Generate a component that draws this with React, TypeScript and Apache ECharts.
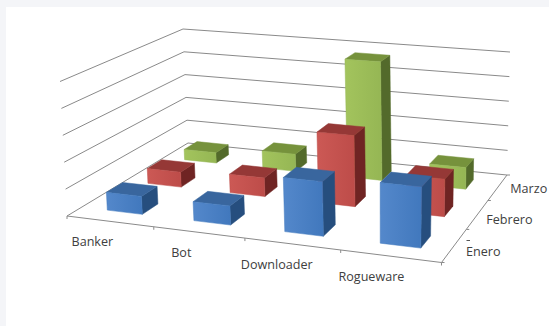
import React, { useEffect, useRef } from "react";
import * as echarts from "echarts";

const categories = ["Banker", "Bot", "Downloader", "Rogueware"];
const months = ["Enero", "Febrero", "Marzo"];
const enero = [6.7, 7, 19.6, 21.5];
const febrero = [5.9, 7.2, 27, 14];
const marzo = [4.3, 7, 47.6, 8.5];
const valueTicks = [0, 10, 20, 30, 40, 50];

const WIDTH = 549;
const HEIGHT = 326;
const BAR_RATIO = 0.41;
const DEPTH_RATIO = 0.37;
// Small sideways correction of each bar along the category direction: [row][category].
const barShift = [
  [0.002, 0.002, 0.002, 0.002],
  [-0.003, -0.003, 0.004, -0.003],
  [-0.006, -0.006, 0.003, -0.006],
];

// Screen corners of the floor and the ceiling of the 3D box: front-left, front-right, back-right, back-left.
type Pt = [number, number];
const floorCorners: Pt[] = [[67, 216], [441.5, 262.5], [507, 175], [188, 143]];
const ceilingCorners: Pt[] = [[60, 81.5], [445, 117], [510, 52], [183, 29]];

function homography(q: Pt[]) {
  const [[x0, y0], [x1, y1], [x2, y2], [x3, y3]] = q;
  const dx1 = x1 - x2, dx2 = x3 - x2, sx = x0 - x1 + x2 - x3;
  const dy1 = y1 - y2, dy2 = y3 - y2, sy = y0 - y1 + y2 - y3;
  const det = dx1 * dy2 - dx2 * dy1;
  const g = (sx * dy2 - dx2 * sy) / det;
  const h = (dx1 * sy - sx * dy1) / det;
  const a = x1 - x0 + g * x1, b = x3 - x0 + h * x3;
  const d = y1 - y0 + g * y1, e = y3 - y0 + h * y3;
  return (u: number, v: number): Pt => {
    const k = g * u + h * v + 1;
    return [(a * u + b * v + x0) / k, (d * u + e * v + y0) / k];
  };
}
const floorAt = homography(floorCorners);
const ceilingAt = homography(ceilingCorners);

// u runs along the categories, v into the depth, w from floor to ceiling.
function project(u: number, v: number, w: number): Pt {
  const f = floorAt(u, v);
  const c = ceilingAt(u, v);
  return [f[0] + (c[0] - f[0]) * w, f[1] + (c[1] - f[1]) * w];
}

const palettes = [
  { left: "#5488cb", right: "#4178bd", top: "#39669e", side: "#264e7e" },
  { left: "#cc5955", right: "#bd4c49", top: "#953836", side: "#6f2423" },
  { left: "#a3c45d", right: "#95b654", top: "#76923c", side: "#536a2b" },
];

const rows = [enero, febrero, marzo];
// Painter's order: far rows first, then left to right.
const barData: number[][] = [];
for (let r = rows.length - 1; r >= 0; r--) {
  rows[r].forEach((value, c) => barData.push([c, value, r]));
}

// Pixel offsets of the axis labels from the floor edge.
const categoryLabelOffsets: Pt[] = [[-17.5, 20.5], [-17.5, 20.5], [-15.5, 21], [-19, 20.5]];
const monthLabelOffsets: Pt[] = [[29, 6], [32, 5], [31, 1]];

const LINE = "#8a8a8a";
const TEXT = "#404040";

function seg(a: Pt, b: Pt) {
  return {
    type: "line",
    shape: { x1: a[0], y1: a[1], x2: b[0], y2: b[1] },
    style: { stroke: LINE, lineWidth: 1 },
  };
}
function label(text: string, p: Pt) {
  return {
    type: "text",
    style: {
      text,
      x: p[0],
      y: p[1],
      fill: TEXT,
      font: '12.6px "Open Sans"',
      align: "center",
      verticalAlign: "middle",
    },
  };
}

const renderFrame = (_: any, api: any) => {
  const children: any[] = [];
  const wOf = (val: number) => 1 - api.coord([0, val])[1] / HEIGHT;
  valueTicks.forEach((t) => {
    const w = wOf(t);
    children.push(seg(project(0, 0, w), project(0, 1, w)));
    children.push(seg(project(0, 1, w), project(1, 1, w)));
  });
  children.push(seg(project(0, 0, 0), project(1, 0, 0)));
  children.push(seg(project(1, 0, 0), project(1, 1, 0)));
  for (let i = 0; i <= categories.length; i++) {
    const p = project(i / categories.length, 0, 0);
    children.push(seg(p, [p[0], p[1] + 3]));
  }
  for (let j = 0; j <= months.length; j++) {
    const p = project(1, j / months.length, 0);
    children.push(seg(p, [p[0] + 3, p[1]]));
  }
  categories.forEach((name, i) => {
    const u = api.coord([i, 0])[0] / WIDTH;
    const p = project(u, 0, 0);
    const off = categoryLabelOffsets[i];
    children.push(label(name, [p[0] + off[0], p[1] + off[1]]));
  });
  months.forEach((name, j) => {
    const p = project(1, (j + 0.5) / months.length, 0);
    const off = monthLabelOffsets[j];
    children.push(label(name, [p[0] + off[0], p[1] + off[1]]));
  });
  return { type: "group", children };
};

const renderBar = (_: any, api: any) => {
  const cat = api.value(0);
  const val = api.value(1);
  const row = api.value(2);
  const [cx, cy] = api.coord([cat, val]);
  const u = cx / WIDTH + barShift[row][cat];
  const w = 1 - cy / HEIGHT;
  const hu = (api.size([1, 0])[0] / WIDTH) * BAR_RATIO * 0.5;
  const dv = (1 / months.length) * DEPTH_RATIO * 0.5;
  const v = (row + 0.5) / months.length;
  const u0 = u - hu, u1 = u + hu, v0 = v - dv, v1 = v + dv;
  const c = palettes[row];
  const face = (pts: Pt[], fill: any) => ({
    type: "polygon",
    shape: { points: pts },
    style: { fill, stroke: typeof fill === "string" ? fill : c.right, lineWidth: 0.5 },
  });
  return {
    type: "group",
    children: [
      face([project(u1, v0, 0), project(u1, v1, 0), project(u1, v1, w), project(u1, v0, w)], c.side),
      face([project(u0, v0, w), project(u1, v0, w), project(u1, v1, w), project(u0, v1, w)], c.top),
      face(
        [project(u0, v0, 0), project(u1, v0, 0), project(u1, v0, w), project(u0, v0, w)],
        new echarts.graphic.LinearGradient(0, 0, 1, 0, [
          { offset: 0, color: c.left },
          { offset: 1, color: c.right },
        ])
      ),
    ],
  };
};

export default function App() {
  const ref = useRef<HTMLDivElement>(null);
  useEffect(() => {
    const chart = echarts.init(ref.current!, undefined, { renderer: "svg" });
    chart.setOption({
      animation: false,
      backgroundColor: "#ffffff",
      grid: { left: 0, top: 0, right: 0, bottom: 0 },
      xAxis: { type: "category", data: categories, show: false },
      yAxis: { type: "value", min: 0, max: 50, interval: 10, show: false },
      graphic: [
        { type: "rect", z: 0, shape: { x: 0, y: 0, width: 6, height: HEIGHT }, style: { fill: "#f4f5f8" } },
        { type: "rect", z: 0, shape: { x: 0, y: 0, width: WIDTH, height: 7 }, style: { fill: "#f4f5f8" } },
        { type: "line", z: 5, shape: { x1: 466.5, y1: 240.5, x2: 470, y2: 240.5 }, style: { stroke: "#555555", lineWidth: 1 } },
      ],
      series: [
        { type: "custom", z: 1, silent: true, clip: false, renderItem: renderFrame, data: [[0, 0]], encode: { x: 0, y: 1 } },
        { type: "custom", z: 2, silent: true, clip: false, renderItem: renderBar, data: barData, encode: { x: 0, y: 1 } },
      ],
    });
    return () => chart.dispose();
  }, []);
  return <div ref={ref} style={{ position: "fixed", left: 0, top: 0, width: WIDTH, height: HEIGHT }} />;
}
